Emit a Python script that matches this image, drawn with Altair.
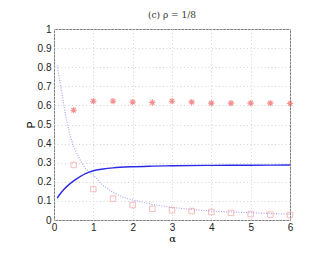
import altair as alt
import pandas as pd

# markers at alpha = 0.5 ... 6
alpha_pts = [0.5, 1.0, 1.5, 2.0, 2.5, 3.0, 3.5, 4.0, 4.5, 5.0, 5.5, 6.0]
star_vals = [0.575, 0.622, 0.622, 0.617, 0.615, 0.622, 0.617, 0.612, 0.612, 0.612, 0.612, 0.61]
square_vals = [0.288, 0.162, 0.112, 0.078, 0.059, 0.051, 0.047, 0.042, 0.037, 0.031, 0.028, 0.026]

# solid curve
solid_a = [0.08, 0.15, 0.25, 0.35, 0.5, 0.65, 0.8, 1.0, 1.25, 1.5, 2.0, 2.5, 3.0, 4.0, 5.0, 6.0]
solid_v = [0.115, 0.135, 0.16, 0.18, 0.205, 0.225, 0.243, 0.258, 0.267, 0.273, 0.279, 0.282, 0.284, 0.286, 0.287, 0.288]

# dotted curve
dot_a = [0.08, 0.2, 0.3, 0.4, 0.5, 0.6, 0.7, 0.8, 0.9, 1.0, 1.25, 1.5, 1.75, 2.0, 2.5, 3.0, 3.5, 4.0, 4.5, 5.0, 5.5, 6.0]
dot_v = [0.81, 0.665, 0.54, 0.45, 0.385, 0.34, 0.3, 0.27, 0.25, 0.235, 0.18, 0.145, 0.12, 0.105, 0.082, 0.066, 0.055, 0.047, 0.042, 0.038, 0.034, 0.031]

x_ticks = [0, 1, 2, 3, 4, 5, 6]
y_ticks = [0, 0.1, 0.2, 0.3, 0.4, 0.5, 0.6, 0.7, 0.8, 0.9, 1.0]

markers = pd.DataFrame({"a": alpha_pts, "star": star_vals, "sq": square_vals})
solid = pd.DataFrame({"a": solid_a, "v": solid_v})
dotted = pd.DataFrame({"a": dot_a, "v": dot_v})

xs = alt.Scale(domain=[0, 6], nice=False, zero=False)
ys = alt.Scale(domain=[0, 1], nice=False, zero=False)

xax = alt.Axis(values=x_ticks, title="α", titleFont="DejaVu Serif", titleFontWeight="normal",
               titleFontSize=10, titlePadding=1, labelFont="Liberation Sans", labelFontSize=10,
               labelColor="#222", grid=True, gridDash=[1, 2.5], gridColor="#d4d4d4", ticks=False,
               domain=False, labelPadding=2, labelFlush=False, labelOverlap=False, tickCount=7)
yax = alt.Axis(values=y_ticks, title="P", titleFont="Liberation Sans", titleFontWeight="normal",
               titleFontSize=10, titlePadding=1, labelFont="Liberation Sans", labelFontSize=10,
               labelColor="#222", grid=True, gridDash=[1, 2.5], gridColor="#d4d4d4", ticks=False,
               domain=False, labelPadding=3, labelFlush=False, labelOverlap=False, tickCount=11,
               labelExpr="datum.value == 0 ? '0' : datum.value == 1 ? '1' : format(datum.value, '.1f')")


def X(field):
    return alt.X(field, type="quantitative", scale=xs, axis=xax)


def Y(field):
    return alt.Y(field, type="quantitative", scale=ys, axis=yax)


dot_layer = alt.Chart(dotted).mark_line(color="#a8a8f0", strokeDash=[1, 1.5], strokeWidth=1.2).encode(
    x=X("a"), y=Y("v"))
solid_layer = alt.Chart(solid).mark_line(color="#2a2ae6", strokeWidth=1.4, interpolate="monotone").encode(
    x=X("a"), y=Y("v"))
star_path = "M-1,0L1,0M0,-1L0,1M-0.7,-0.7L0.7,0.7M-0.7,0.7L0.7,-0.7"
star_layer = alt.Chart(markers).mark_point(shape=star_path, size=40, color="#f06060", strokeWidth=1.1, filled=False).encode(
    x=X("a"), y=Y("star"))
sq_layer = alt.Chart(markers).mark_point(shape="square", size=30, color="#f4a0a0", strokeWidth=1, filled=False).encode(
    x=X("a"), y=Y("sq"))

chart = alt.layer(dot_layer, solid_layer, star_layer, sq_layer).properties(
    width=236, height=191,
    title=alt.TitleParams("(c) ρ = 1/8", font="DejaVu Serif", fontSize=9, fontWeight="normal",
                          color="#333", offset=4, anchor="middle"),
    autosize="none",
    padding={"left": 46, "top": 21, "right": 30, "bottom": 30},
).configure_view(stroke="#808080", strokeWidth=1)

chart.save("out.html", embed_options={"renderer": "svg", "actions": False})
